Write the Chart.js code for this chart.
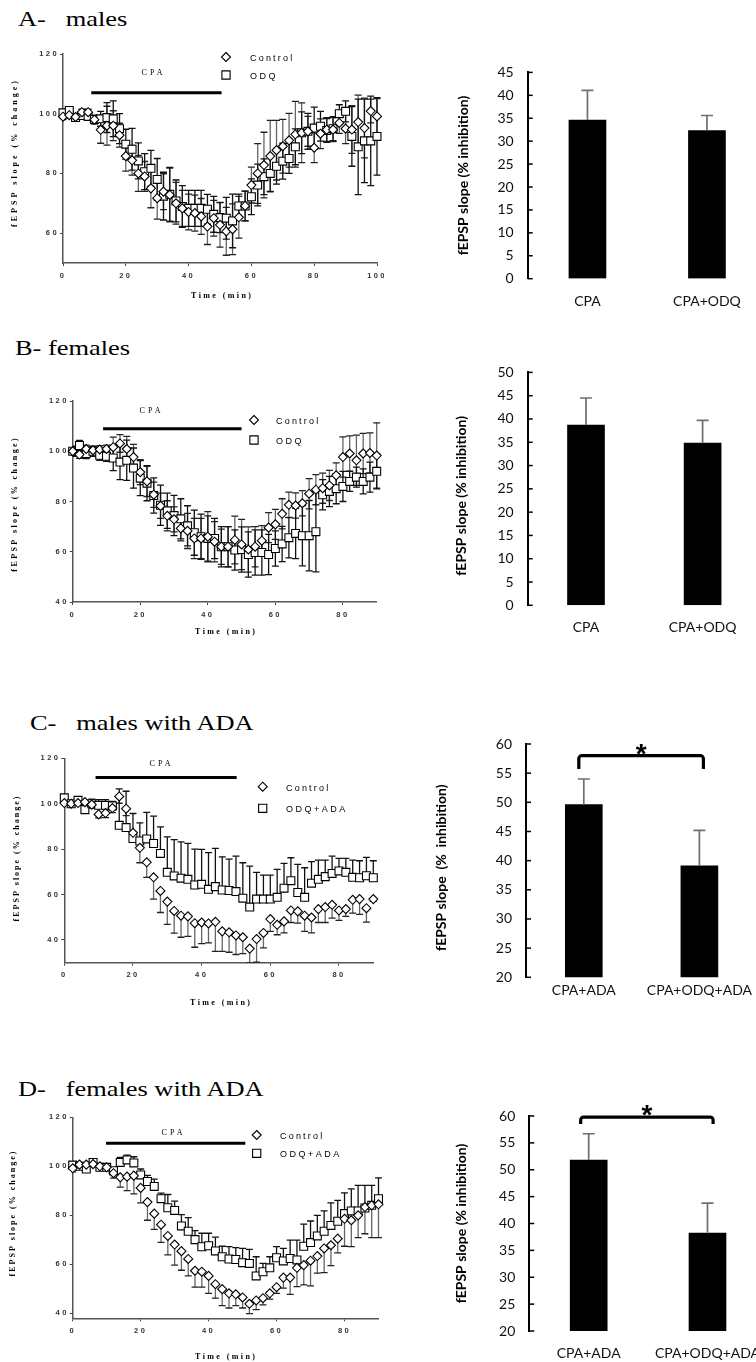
<!DOCTYPE html>
<html lang="en">
<head>
<meta charset="UTF-8">
<title>fEPSP slope: CPA, ODQ and ADA</title>
<script src="https://cdn.jsdelivr.net/npm/chart.js@4.4.0/dist/chart.umd.min.js"></script>
<style>
  html, body { margin: 0; padding: 0; background: #fff; overflow: hidden; }
  body { position: relative; width: 756px; height: 1362px; }
  canvas { position: absolute; }
  .panel-title {
    position: absolute;
    font-family: "Liberation Serif", "Times New Roman", serif;
    font-size: 22px;
    line-height: 1;
    white-space: pre;
    color: #000;
    transform: scaleX(1.2);
    transform-origin: left top;
  }
</style>
</head>
<body>
<div class="panel-title" style="left:18px; top:8px">A-   males</div>
<div class="panel-title" style="left:15px; top:337px">B- females</div>
<div class="panel-title" style="left:30px; top:712px">C-   males with ADA</div>
<div class="panel-title" style="left:18px; top:1078px">D-   females with ADA</div>

<canvas id="lineA" width="400" height="270" style="left:0; top:40px"></canvas>
<canvas id="barA" width="380" height="270" style="left:400px; top:50px"></canvas>
<canvas id="lineB" width="400" height="260" style="left:0; top:380px"></canvas>
<canvas id="barB" width="380" height="300" style="left:400px; top:350px"></canvas>
<canvas id="lineC" width="400" height="280" style="left:0; top:740px"></canvas>
<canvas id="barC" width="380" height="290" style="left:400px; top:720px"></canvas>
<canvas id="lineD" width="400" height="262" style="left:0; top:1100px"></canvas>
<canvas id="barD" width="380" height="272" style="left:400px; top:1090px"></canvas>

<script>
// ---------- time course data (fEPSP slope, % of baseline) ----------
const timesA = [0, 2, 4, 6, 8, 10, 12, 14, 16, 18, 20, 22, 24, 26, 28, 30, 32, 34, 36, 38, 40, 42, 44, 46, 48, 50,
  52, 54, 56, 58, 60, 62, 64, 66, 68, 70, 72, 74, 76, 78, 80, 82, 84, 86, 88, 90, 92, 94, 96, 98, 100];
const times90 = [0, 2, 4, 6, 8, 10, 12, 14, 16, 18, 20, 22, 24, 26, 28, 30, 32, 34, 36, 38, 40, 42, 44, 46, 48, 50,
  52, 54, 56, 58, 60, 62, 64, 66, 68, 70, 72, 74, 76, 78, 80, 82, 84, 86, 88, 90];

// A - males
const ctrlA = [99, 99.5, 98.9, 100.5, 100.5, 98, 94.6, 96, 96, 92.8, 85.8, 84.4, 80, 79, 75, 71.7, 73.9, 72.8, 70, 68.3,
  67.1, 66.7, 65.6, 62.2, 65, 62.8, 60.6, 61.3, 65.3, 69.1, 76.1, 80, 82.8, 85.8, 87.8, 89.1, 91.1, 93.1, 93.6, 94.1,
  88.6, 93.3, 94.7, 94.7, 96.9, 95, 94.7, 97.2, 95.2, 100.9, 99.1];
const ctrlErrA = [1, 1, 1, 1, 1, 1.5, 4.5, 6.5, 5, 4, 5, 5, 6, 5, 6.5, 7, 6, 9, 7, 6, 6, 6, 6, 6, 6, 7.5,
  8, 8.5, 7, 5, 6, 10, 11, 12, 10, 9, 9, 11, 10, 5, 5, 5, 4, 4, 3.5, 5, 8, 9, 10, 4, 6];
const odqA = [100.3, 101.1, 98.7, 99.4, 99.1, 98.1, 98.3, 98.7, 98.3, 95, 89.8, 88.1, 84.2, 80.6, 81.7, 78, 72.4, 73,
  70.8, 68.9, 68.3, 68.3, 68.3, 68, 66.3, 65.2, 65, 64.1, 69.1, 69.1, 72.2, 76.1, 78.9, 80, 82.4, 84.1, 85, 88.9,
  93.6, 94.1, 95.2, 95.8, 94.4, 95, 100, 100.8, 92.4, 88.9, 90.9, 90.9, 92.4];
const odqErrA = [1, 1, 1, 1, 1, 1, 2.5, 5, 6, 5, 5, 7, 6, 6, 6, 7, 8, 9, 7, 7, 6, 6, 6, 5, 6, 5,
  7, 9, 4, 5, 6, 7, 6, 6, 6, 6, 5, 6, 7, 6, 7, 5, 4, 4, 3, 3.5, 10, 16, 14, 15, 13];

// B - females
const ctrlB = [100, 98.7, 100.9, 100.4, 100.7, 100.9, 101.6, 103.1, 100.9, 97.7, 91.7, 88, 82.7, 78.3, 74.3, 72.9,
  69.3, 68.3, 65.3, 65.3, 66, 64, 62, 62, 64.7, 62.9, 60.9, 62, 64.4, 69.6, 70.9, 75.1, 78.7, 78.4, 79.3, 83.1,
  84.7, 85.3, 86.4, 90.4, 97.7, 99.1, 96.4, 99.1, 99.3, 98.3];
const ctrlErrB = [1.5, 1.5, 1.5, 1.5, 1.5, 1.5, 4, 3.5, 5, 5, 5, 6, 5, 5, 6, 5, 5, 7, 8, 8, 10, 8, 7, 8, 9.5, 10,
  9, 8, 6, 6, 6, 6, 5, 5, 5, 6, 6, 6, 6, 5, 8, 7, 10, 8, 8, 13];
const odqB = [100, 102.3, 99.1, 100, 98.4, 98, 97.3, 95.7, 96.4, 93.3, 89.3, 87.3, 82.4, 78.5, 76.3, 74.4, 73.1,
  70.3, 67.6, 66, 65.3, 65.3, 62, 62, 60.7, 60.9, 58.9, 59.7, 59.7, 58.9, 61.3, 63.1, 65.6, 67.3, 66.4, 66.4, 68,
  82.7, 84, 85.1, 86, 88, 89.7, 88, 89.7, 92];
const odqErrB = [2, 2, 2, 2, 2, 2, 5, 7, 8, 8, 7, 7, 7, 8, 7, 8, 8, 8, 9, 9, 9, 8, 8, 8, 8, 9,
  9, 9, 9, 8, 7, 7, 8, 10, 12, 14, 16, 6, 6, 6, 6, 4, 4, 5, 6, 7];

// C - males with ADA (control bars point down, ODQ+ADA bars point up)
const ctrlC = [100.3, 100, 100.3, 100.7, 99.6, 95.3, 95.9, 98.1, 103.2, 97.8, 87.2, 80.6, 74.2, 67.6, 61.6, 56.9,
  52.8, 50.7, 50.4, 47.4, 47.7, 47.3, 48, 43.8, 43.4, 42, 41.2, 36.2, 40.4, 43.1, 49.2, 46.7, 48.2, 53, 52.6, 50.7,
  49.9, 53.6, 54.5, 55.5, 53, 53.6, 57.7, 58, 54, 58];
const ctrlErrC = [1, 1, 1, 1, 1.5, 1.5, 2, 2, 3, 3, 3, 6.6, 6.6, 9.6, 9.5, 10, 9.8, 9.5, 8.8, 10.6, 9.3,
  8.6, 13, 8.8, 8.8, 8.4, 7.2, 6.2, 10.2, 6.6, 5.4, 4.4, 5.1, 5.3, 5.2, 6.9, 6.8, 5.9, 6.8, 5.9, 4.4,
  3.2, 5.9, 6.7, 6.1, 1];
const odqC = [102.6, 100, 101.5, 97.4, 100, 99.3, 99.3, 99, 90.5, 89.5, 84.7, 83.6, 84.5, 82.5, 78.1, 69.8, 68.2,
  67.2, 66.7, 64.2, 64.5, 62.3, 63.5, 62, 61.8, 61.3, 58.4, 54.5, 58, 58, 58, 58.8, 62.8, 66.1, 60.9, 58.8, 65,
  66.7, 67.9, 69.3, 70.4, 69.8, 67.6, 67.4, 68.3, 67.4];
const odqErrC = [1, 1, 1, 1, 2, 2.5, 2.5, 2, 16, 16, 11, 8, 11.7, 12, 11.7, 15.6, 16, 16, 15.8, 15.8, 15.4,
  16.2, 16.8, 14.6, 13.8, 15.6, 15.6, 18, 11.8, 10.6, 10.6, 12.3, 10.9, 10.1, 12.4, 13, 9.5, 8.5, 7.3, 7.6, 5.5,
  6.1, 7.6, 7.5, 8.1, 7.5];

// D - females with ADA
const ctrlD = [99.2, 100.7, 100.7, 100.9, 100, 99.6, 97.2, 95.5, 95.8, 96.2, 91.2, 85.4, 80.7, 76.2, 71.6, 68.1,
  65.4, 62.2, 57.4, 57, 55.3, 51.9, 49.9, 48.2, 47.8, 46.5, 43.9, 45.3, 46.2, 48.2, 50.7, 54.6, 54.6, 58.6, 59.7,
  61.5, 63.4, 66.5, 67.8, 70.5, 78.6, 78, 80, 83.4, 84.1, 84.5];
const ctrlErrD = [1.5, 1, 1, 1, 1, 1, 2, 4, 5.7, 7.4, 6.1, 7.4, 6.4, 7.2, 7.7, 8.4, 7.8, 6.9, 6.7, 6.3, 7.1,
  5.7, 6.7, 6, 4.6, 4.3, 4, 3.8, 2.7, 2.4, 2.5, 4.3, 6.8, 7.7, 8.1, 10.3, 7, 9.9, 8.3, 5.8, 11.2,
  10.8, 9.1, 10.9, 13.2, 13.6];
const odqD = [100.5, 100, 98.9, 101.6, 99.6, 99.6, 98.2, 101.6, 102.6, 101.4, 96.5, 93.8, 91.8, 86.8, 83.1, 82,
  75.7, 73.5, 70.1, 67.2, 67.6, 65.5, 63.1, 62.2, 62, 60.7, 60.4, 55.3, 57, 58.6, 62.7, 61.4, 62.4, 61.8, 67.4,
  68.9, 71.6, 73.5, 75.9, 77.6, 80.7, 81.8, 81.8, 83, 84.1, 86.8];
const odqErrD = [1, 1, 1, 1, 1, 1, 1, 2, 2, 2.5, 2.4, 2.5, 3, 2.3, 5.4, 3.8, 4.6, 5.6, 3.7, 5.5, 5.1,
  5.6, 4.3, 5, 4.8, 5.8, 5.7, 7.8, 3.4, 4.5, 4.5, 5.1, 7.5, 8.1, 9, 8.8, 8.4, 8.3, 9.2, 8.5, 8.5,
  9, 10.4, 9.2, 8.1, 8.5];

// axis tick labels
const xTicks100 = [0, 20, 40, 60, 80, 100];
const xTicks90 = [0, 20, 40, 60, 80];
const yTicksA = [60, 80, 100, 120];
const yTicks40 = [40, 60, 80, 100, 120];

// CPA application window [start, end] in min
const cpaA = [9, 50.5];
const cpaB = [9, 50];
const cpaC = [9.1, 50.2];
const cpaD = [9.8, 50.8];

// ---------- summary bars (% inhibition) ----------
const barLabelsAB = ['CPA', 'CPA+ODQ'];
const barLabelsCD = ['CPA+ADA', 'CPA+ODQ+ADA'];
const barA = [34.6, 32.3], barErrA = [6.5, 3.3];
const barB = [38.7, 34.8], barErrB = [5.8, 4.9];
const barC = [49.6, 39.1], barErrC = [4.4, 6.1];
const barD = [51.8, 38.2], barErrD = [4.9, 5.6];
const barTicks45 = [0, 5, 10, 15, 20, 25, 30, 35, 40, 45];
const barTicks50 = [0, 5, 10, 15, 20, 25, 30, 35, 40, 45, 50];
const barTicks60 = [20, 25, 30, 35, 40, 45, 50, 55, 60];

const SERIF = '"Liberation Serif", "Times New Roman", serif';
const SANS = '"Liberation Sans", Arial, sans-serif';
const BARFONT = 'Lato, "Open Sans", sans-serif';

function pts(xs, ys) {
  return xs.map((x, i) => ({ x, y: ys[i] }));
}

function drawMarker(ctx, style, x, y, r) {
  ctx.save();
  ctx.fillStyle = '#fff';
  ctx.strokeStyle = '#000';
  ctx.lineWidth = 1.1;
  ctx.beginPath();
  if (style === 'rectRot') {
    ctx.moveTo(x, y - r); ctx.lineTo(x + r, y); ctx.lineTo(x, y + r); ctx.lineTo(x - r, y); ctx.closePath();
  } else {
    const s = r * Math.SQRT1_2;
    ctx.rect(x - s, y - s, 2 * s, 2 * s);
  }
  ctx.fill(); ctx.stroke();
  ctx.restore();
}

function spacedText(ctx, text, x, y, font, spacing, align) {
  ctx.save();
  ctx.font = font;
  ctx.letterSpacing = spacing + 'px';
  ctx.textAlign = align || 'left';
  ctx.textBaseline = 'middle';
  ctx.fillStyle = '#000';
  // centred text carries one trailing gap; shift it back
  const dx = align === 'center' ? spacing / 2 : 0;
  ctx.fillText(text, x + dx, y);
  ctx.restore();
}

// error bars, CPA bar, legend and axis titles for the time-course plots
const timeCourseDecor = {
  id: 'timeCourseDecor',
  beforeDraw(chart, args, o) {
    chart.ctx.letterSpacing = o.tickSpacing + 'px';
  },
  beforeDatasetsDraw(chart) {
    const { ctx, chartArea: a, scales: { x, y } } = chart;
    ctx.save();
    ctx.letterSpacing = '0px';
    ctx.beginPath();
    ctx.rect(a.left, a.top - 10, a.right - a.left + 10, a.bottom - a.top + 10);
    ctx.clip();
    chart.data.datasets.forEach(ds => {
      ds.data.forEach((p, i) => {
        const e = ds.errors[i];
        const px = x.getPixelForValue(p.x);
        const yHi = y.getPixelForValue(ds.errDir === 'down' ? p.y : p.y + e);
        const yLo = y.getPixelForValue(ds.errDir === 'up' ? p.y : p.y - e);
        ctx.lineWidth = 1.3;
        ctx.strokeStyle = ds.errColor;
        ctx.beginPath(); ctx.moveTo(px, yHi); ctx.lineTo(px, yLo); ctx.stroke();
        ctx.strokeStyle = ds.capColor;
        ctx.beginPath();
        if (ds.errDir !== 'down') { ctx.moveTo(px - 3.5, yHi); ctx.lineTo(px + 3.5, yHi); }
        if (ds.errDir !== 'up') { ctx.moveTo(px - 3.5, yLo); ctx.lineTo(px + 3.5, yLo); }
        ctx.stroke();
      });
    });
    ctx.restore();
  },
  afterDraw(chart, args, o) {
    const { ctx, scales: { x, y } } = chart;
    ctx.letterSpacing = '0px';
    // CPA application bar
    ctx.save();
    ctx.strokeStyle = '#000';
    ctx.lineWidth = 3;
    const by = y.getPixelForValue(o.cpaLevel);
    ctx.beginPath();
    ctx.moveTo(x.getPixelForValue(o.cpa[0]), by);
    ctx.lineTo(x.getPixelForValue(o.cpa[1]), by);
    ctx.stroke();
    ctx.restore();
    spacedText(ctx, 'CPA', o.cpaText[0], o.cpaText[1], '8px ' + SERIF, 3, 'center');

    // legend
    const ds = chart.data.datasets;
    drawMarker(ctx, 'rectRot', o.legend.x, o.legend.y1, 4.5);
    drawMarker(ctx, 'rect', o.legend.x, o.legend.y2, 5.8);
    spacedText(ctx, ds[0].label, o.legend.tx, o.legend.y1 + 1.5, '9px ' + SANS, 2.2);
    spacedText(ctx, ds[1].label, o.legend.tx, o.legend.y2 + 1.5, '9px ' + SANS, 2.5);

    // axis titles
    spacedText(ctx, 'Time (min)', o.xTitle[0], o.xTitle[1], 'bold 8px ' + SERIF, 2.4, 'center');
    ctx.save();
    ctx.translate(o.yTitle[0], o.yTitle[1]);
    ctx.rotate(-Math.PI / 2);
    spacedText(ctx, 'fEPSP slope (% change)', 0, 0, 'bold 8px ' + SERIF, o.yTitleSpacing, 'center');
    ctx.restore();
  }
};

function timeCourse(id, c) {
  const axisGrid = { display: true, drawOnChartArea: false, drawTicks: true, tickLength: 3, color: '#444', lineWidth: 1 };
  const axisBorder = { display: true, color: '#555', width: 1.5 };
  const tickFont = { family: SANS, size: 7.5, weight: 'bold' };
  return new Chart(document.getElementById(id), {
    type: 'scatter',
    data: {
      datasets: [
        {
          label: 'Control', data: pts(c.times, c.ctrl), errors: c.ctrlErr, errDir: c.ctrlDir,
          errColor: '#666', capColor: '#222', pointStyle: 'rectRot', pointRadius: 4.5,
          pointBackgroundColor: '#fff', pointBorderColor: '#000', pointBorderWidth: 1.1, clip: false
        },
        {
          label: c.drugLabel, data: pts(c.times, c.drug), errors: c.drugErr, errDir: c.drugDir,
          errColor: '#111', capColor: '#111', pointStyle: 'rect', pointRadius: 5.6,
          pointBackgroundColor: '#fff', pointBorderColor: '#000', pointBorderWidth: 1.1, clip: false
        }
      ]
    },
    options: {
      responsive: false,
      animation: false,
      devicePixelRatio: 1,
      layout: { padding: { left: 0, top: c.plotTop, right: c.width - c.plotRight, bottom: 0 } },
      plugins: {
        legend: { display: false },
        tooltip: { enabled: false },
        timeCourseDecor: c.decor
      },
      scales: {
        x: {
          type: 'linear', min: 0, max: c.xMax,
          afterBuildTicks: s => { s.ticks = c.xTicks.map(v => ({ value: v })); },
          afterFit: s => { s.height = c.height - c.plotBottom; },
          grid: axisGrid, border: axisBorder,
          ticks: { font: tickFont, color: '#333', padding: 5, maxRotation: 0, autoSkip: false }
        },
        y: {
          type: 'linear', min: c.yMin, max: 120,
          afterBuildTicks: s => { s.ticks = c.yTicks.map(v => ({ value: v })); },
          afterFit: s => { s.width = c.plotLeft; },
          grid: axisGrid, border: axisBorder,
          ticks: { font: tickFont, color: '#333', padding: 1 }
        }
      }
    },
    plugins: [timeCourseDecor]
  });
}

// error bars, inward ticks, axis title and significance bracket for the summary bars
const barDecor = {
  id: 'barDecor',
  afterDatasetsDraw(chart, args, o) {
    const { ctx, chartArea: a, scales: { y } } = chart;
    const ds = chart.data.datasets[0];
    const bars = chart.getDatasetMeta(0).data;
    ctx.save();
    ctx.strokeStyle = '#6f6f6f';
    ctx.lineWidth = 1.7;
    bars.forEach((b, i) => {
      const top = y.getPixelForValue(ds.data[i] + ds.errors[i]);
      ctx.beginPath();
      ctx.moveTo(b.x, b.y); ctx.lineTo(b.x, top);
      ctx.moveTo(b.x - 6, top); ctx.lineTo(b.x + 6, top);
      ctx.stroke();
    });
    ctx.strokeStyle = '#000';
    ctx.lineWidth = 1.5;
    y.ticks.forEach(t => {
      const py = y.getPixelForValue(t.value);
      ctx.beginPath(); ctx.moveTo(a.left, py); ctx.lineTo(a.left + 5, py); ctx.stroke();
    });

    ctx.translate(o.titleX, (a.top + a.bottom) / 2 + o.titleDy);
    ctx.rotate(-Math.PI / 2);
    ctx.font = 'bold 14px ' + BARFONT;
    ctx.fillStyle = '#000';
    ctx.textAlign = 'center';
    ctx.textBaseline = 'middle';
    ctx.fillText(o.title, 0, 0);
    ctx.restore();

    if (o.bracket) {
      const br = o.bracket;
      const x1 = bars[0].x + br.dx[0], x2 = bars[1].x + br.dx[1];
      const yt = y.getPixelForValue(br.top), ye = y.getPixelForValue(br.end);
      ctx.save();
      ctx.strokeStyle = '#000';
      ctx.lineWidth = 3.2;
      ctx.lineJoin = 'round';
      ctx.beginPath();
      ctx.moveTo(x1, ye);
      ctx.arcTo(x1, yt, x1 + 4, yt, 3);
      ctx.arcTo(x2, yt, x2, yt + 4, 3);
      ctx.lineTo(x2, ye);
      ctx.stroke();
      ctx.font = 'bold 28px ' + SANS;
      ctx.fillStyle = '#000';
      ctx.textAlign = 'center';
      ctx.textBaseline = 'alphabetic';
      ctx.fillText('*', (x1 + x2) / 2, yt + 7);
      ctx.restore();
    }
  }
};

function summaryBars(id, c) {
  return new Chart(document.getElementById(id), {
    type: 'bar',
    data: {
      labels: c.labels,
      datasets: [{ data: c.values, errors: c.errors, backgroundColor: '#000', barThickness: 37 }]
    },
    options: {
      responsive: false,
      animation: false,
      devicePixelRatio: 1,
      layout: { padding: { left: 0, top: c.plotTop, right: c.width - c.plotRight, bottom: 0 } },
      plugins: {
        legend: { display: false },
        tooltip: { enabled: false },
        barDecor: c.decor
      },
      scales: {
        x: {
          grid: { display: false, drawTicks: false },
          border: { display: false },
          afterFit: s => { s.height = c.height - c.plotBottom; },
          ticks: { font: { family: BARFONT, size: 14 }, color: '#111', padding: c.labelPad, maxRotation: 0 }
        },
        y: {
          min: c.yMin, max: c.yMax,
          afterBuildTicks: s => { s.ticks = c.yTicks.map(v => ({ value: v })); },
          afterFit: s => { s.width = c.plotLeft; },
          grid: { display: true, drawOnChartArea: false, drawTicks: false },
          border: { display: true, color: '#000', width: 2 },
          ticks: { font: { family: BARFONT, size: 14 }, color: '#111', padding: 14 }
        }
      }
    },
    plugins: [barDecor]
  });
}

// ---------- panels ----------
timeCourse('lineA', {
  width: 400, height: 270, plotLeft: 63, plotRight: 377, plotTop: 14, plotBottom: 223,
  times: timesA, ctrl: ctrlA, ctrlErr: ctrlErrA, ctrlDir: 'both',
  drug: odqA, drugErr: odqErrA, drugDir: 'both', drugLabel: 'ODQ',
  xMax: 100, yMin: 50, xTicks: xTicks100, yTicks: yTicksA,
  decor: {
    tickSpacing: 2.4, cpa: cpaA, cpaLevel: 107, cpaText: [152, 33],
    legend: { x: 226, y1: 17, y2: 35, tx: 250 },
    xTitle: [221, 256], yTitle: [15, 114], yTitleSpacing: 3
  }
});

timeCourse('lineB', {
  width: 400, height: 260, plotLeft: 72.7, plotRight: 376.7, plotTop: 21, plotBottom: 222,
  times: times90, ctrl: ctrlB, ctrlErr: ctrlErrB, ctrlDir: 'both',
  drug: odqB, drugErr: odqErrB, drugDir: 'both', drugLabel: 'ODQ',
  xMax: 90, yMin: 40, xTicks: xTicks90, yTicks: yTicks40,
  decor: {
    tickSpacing: 2.4, cpa: cpaB, cpaLevel: 109, cpaText: [150, 31],
    legend: { x: 254, y1: 40, y2: 60, tx: 276 },
    xTitle: [225, 252], yTitle: [15, 125], yTitleSpacing: 2.4
  }
});

timeCourse('lineC', {
  width: 400, height: 280, plotLeft: 64.3, plotRight: 373.3, plotTop: 18.3, plotBottom: 222.7,
  times: times90, ctrl: ctrlC, ctrlErr: ctrlErrC, ctrlDir: 'down',
  drug: odqC, drugErr: odqErrC, drugDir: 'up', drugLabel: 'ODQ+ADA',
  xMax: 90, yMin: 30, xTicks: xTicks90, yTicks: yTicks40,
  decor: {
    tickSpacing: 2.4, cpa: cpaC, cpaLevel: 111.5, cpaText: [160, 24],
    legend: { x: 262.7, y1: 46.7, y2: 68.3, tx: 286 },
    xTitle: [220, 263], yTitle: [17, 119], yTitleSpacing: 2
  }
});

timeCourse('lineD', {
  width: 400, height: 262, plotLeft: 72.7, plotRight: 378.5, plotTop: 17.3, plotBottom: 218.3,
  times: times90, ctrl: ctrlD, ctrlErr: ctrlErrD, ctrlDir: 'down',
  drug: odqD, drugErr: odqErrD, drugDir: 'up', drugLabel: 'ODQ+ADA',
  xMax: 90, yMin: 38, xTicks: xTicks90, yTicks: yTicks40,
  decor: {
    tickSpacing: 2.4, cpa: cpaD, cpaLevel: 109.4, cpaText: [172, 32.7],
    legend: { x: 256.7, y1: 35, y2: 53.3, tx: 280 },
    xTitle: [225, 256.7], yTitle: [13, 114], yTitleSpacing: 2
  }
});

summaryBars('barA', {
  width: 380, height: 270, plotLeft: 127.7, plotRight: 366.7, plotTop: 17.3, plotBottom: 228.7,
  labels: barLabelsAB, values: barA, errors: barErrA, yMin: 0, yMax: 45, yTicks: barTicks45, labelPad: 14,
  decor: { title: 'fEPSP slope (% inhibition)', titleX: 63, titleDy: 0 }
});

summaryBars('barB', {
  width: 380, height: 300, plotLeft: 127.7, plotRight: 360.9, plotTop: 21, plotBottom: 255.3,
  labels: barLabelsAB, values: barB, errors: barErrB, yMin: 0, yMax: 50, yTicks: barTicks50, labelPad: 14,
  decor: { title: 'fEPSP slope (% inhibition)', titleX: 61.7, titleDy: 7 }
});

summaryBars('barC', {
  width: 380, height: 290, plotLeft: 126, plotRight: 357.2, plotTop: 24, plotBottom: 257.3,
  labels: barLabelsCD, values: barC, errors: barErrC, yMin: 20, yMax: 60, yTicks: barTicks60, labelPad: 5,
  decor: {
    title: 'fEPSP slope  (%  inhibition)', titleX: 41.7, titleDy: 7,
    bracket: { top: 58, end: 55.7, dx: [-5, 4] }
  }
});

summaryBars('barD', {
  width: 380, height: 272, plotLeft: 129.3, plotRight: 366.9, plotTop: 26, plotBottom: 241,
  labels: barLabelsCD, values: barD, errors: barErrD, yMin: 20, yMax: 60, yTicks: barTicks60, labelPad: 14,
  decor: {
    title: 'fEPSP slope (% inhibition)', titleX: 61.7, titleDy: 0,
    bracket: { top: 59.8, end: 58.5, dx: [-8, 5.6] }
  }
});
</script>
</body>
</html>
